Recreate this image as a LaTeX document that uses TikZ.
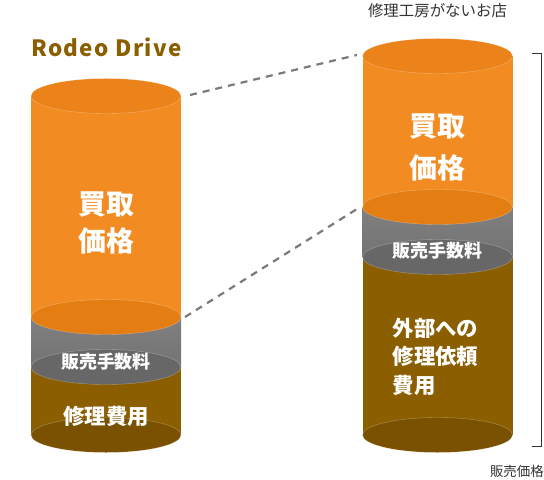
\documentclass[tikz,border=0pt]{standalone}
\usepackage{fontspec}
\setmainfont{Noto Sans CJK JP}
\usetikzlibrary{calc}
\definecolor{orTop}{HTML}{EB831A}
\definecolor{orBody}{HTML}{F28B21}
\definecolor{orBot}{HTML}{E47E12}
\definecolor{grTop}{HTML}{808080}
\definecolor{grBot}{HTML}{737373}
\definecolor{grEll}{HTML}{676767}
\definecolor{brBody}{HTML}{8B5E00}
\definecolor{brEll}{HTML}{7A5100}
\definecolor{dashgray}{HTML}{7A7A7A}
\definecolor{brk}{HTML}{333333}
\tikzset{
  ellcap/.style={draw=white,draw opacity=0.35,line width=0.4bp},
  lbl/.style={text=white,font=\bfseries,inner sep=0pt},
  dashline/.style={draw=dashgray,line width=2.2bp,dash pattern=on 7bp off 6bp},
  brace/.style={draw=brk,line width=0.9bp}
}
\newcommand{\cyl}[5]{% cx, top, mid1, mid2, bottom
  \fill[brBody] (#1-75,#4) rectangle (#1+75,#5);
  \filldraw[fill=brEll,ellcap] (#1,#5) ellipse [x radius=75, y radius=17.5];
  \shade[top color=grTop,bottom color=grBot] (#1-75,#3) rectangle (#1+75,#4);
  \filldraw[fill=grEll,ellcap] (#1,#4) ellipse [x radius=75, y radius=17.5];
  \fill[orBody] (#1-75,#2) rectangle (#1+75,#3);
  \filldraw[fill=orBot,ellcap] (#1,#3) ellipse [x radius=75, y radius=17.5];
  \filldraw[fill=orTop,ellcap] (#1,#2) ellipse [x radius=75, y radius=17.5];
}
\begin{document}
\begin{tikzpicture}[x=1bp,y=-1bp]
\useasboundingbox (0,0) rectangle (544,480);
% cylinders
\cyl{106}{96}{317}{367}{435}
\cyl{437.5}{56}{207}{257}{435}
% titles
\node[anchor=base west,inner sep=0pt,text=brBody,font=\fontsize{22.5}{26}\selectfont\bfseries\addfontfeatures{LetterSpace=6}] (t1) at (31,56.5) {Rodeo Drive};
\node[inner sep=0pt,text=brk,font=\fontsize{15.5}{18}\selectfont] (t2) at (437.5,11) {修理工房がないお店};
% left labels
\node[lbl,font=\fontsize{28}{36}\selectfont\bfseries,align=center] (l1) at (106,223) {買取\\[2bp]価格};
\node[lbl,font=\fontsize{18}{20}\selectfont\bfseries] (l2) at (106,362) {販売手数料};
\node[lbl,font=\fontsize{21.5}{24}\selectfont\bfseries] (l3) at (106,416.5) {修理費用};
% right labels
\node[lbl,font=\fontsize{28}{39}\selectfont\bfseries,align=center] (r1) at (437.5,147.5) {買取\\[3bp]価格};
\node[lbl,font=\fontsize{18}{20}\selectfont\bfseries] (r2) at (437.5,251) {販売手数料};
\node[lbl,font=\fontsize{21.5}{28.5}\selectfont\bfseries,align=left,anchor=north west] (r3) at (392.5,318) {外部への\\修理依頼\\費用};
% dashed connectors
\coordinate (a1) at (190,95);
\coordinate (b1) at (357,55);
\coordinate (a2) at (185,317);
\coordinate (b2) at (357,209);
\draw[dashline] (a1) -- (b1);
\draw[dashline] (a2) -- (b2);
% bracket
\coordinate (k1) at (532,53);
\coordinate (k2) at (541,53);
\coordinate (k3) at (541,446.5);
\coordinate (k4) at (532,446.5);
\draw[brace] (k1) -- (k2) -- (k3) -- (k4);
\node[inner sep=0pt,text=brk,font=\fontsize{13.5}{16}\selectfont,anchor=east] (t3) at (544,471.5) {販売価格};
\end{tikzpicture}
\end{document}
